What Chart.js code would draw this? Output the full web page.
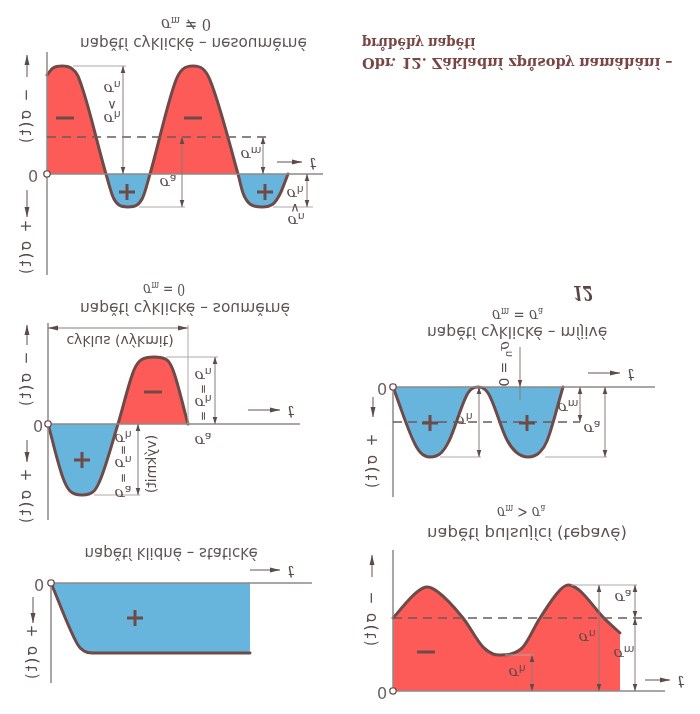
<!DOCTYPE html>
<html><head><meta charset="utf-8">
<script src="https://cdn.jsdelivr.net/npm/chart.js@4.4.1/dist/chart.umd.min.js"></script>
<style>
html,body{margin:0;padding:0;background:#fff;overflow:hidden}
#page{position:relative;width:700px;height:714px;transform:scaleY(-1);transform-origin:50% 50%;background:#fff;overflow:hidden}
#page canvas{position:absolute}
.lbl{position:absolute;white-space:nowrap;color:#5d5353;font-family:"DejaVu Sans",sans-serif;transform-origin:0 50%;height:18px;line-height:18px}
.lbl sub{font-size:0.65em;vertical-align:-0.2em}
.cap{color:#7a4644;font-family:"DejaVu Serif",serif;font-weight:bold}
</style></head><body><div id="page"></div>
<script>
// ===================== DATA (time t, stress σ) =====================
// A: napětí cyklické – nesouměrné (σm ≠ 0)
const tA=[0,6,15,24,31,59,66,72,81,90,96,103,129,136,146,156,163,191,196,203,215,226,233,241];
const sA=[-99,-106,-108,-106,-98,0,23,31,33,31,23,0,-94,-105,-108,-105,-94,0,19,30,33,30,20,0];
const A_low=-108, A_high=33, A_mean=-37;
// B: napětí cyklické – souměrné (σm = 0)
const tB=[0,15,22,34,46,53,70,86,93,106,119,125,140];
const sB=[0,54,67,71,67,54,0,-54,-64,-67,-64,-54,0];
const B_low=-67, B_high=71;
// C: napětí cyklické – míjivé (σm = σa)
const tC=[0,20,27,37,48,56,75,85,95,114,123,135,147,154,170];
const sC=[0,53,65,70,66,54,6,0,6,53,65,70,65,54,0];
const C_high=70, C_mean=35;
// D: napětí klidné – statické
const tD=[0,27,33,41,199];
const sD=[0,62,68,70,70];
// E: napětí pulsující (tepavé) (σm > σa)
const tE=[0,24,34,45,70,90,100,107,118,130,147,167,175,186,210,227];
const sE=[-73,-99,-104,-99,-73,-44,-37,-36,-37,-44,-73,-101,-106,-101,-74,-58];
const E_low=-106, E_high=-36, E_mean=-73;

const titles=[
 {html:'napětí cyklické – nesouměrné',cx:193,cy:43,w:227},
 {html:'<i>σ</i><sub>m</sub> ≠ 0',cx:186,cy:25,w:50,font:'17px "DejaVu Serif"'},
 {html:'napětí cyklické – souměrné',cx:185,cy:308,w:210},
 {html:'<i>σ</i><sub>m</sub> = 0',cx:164,cy:290,w:42,font:'17px "DejaVu Serif"'},
 {html:'napětí cyklické – míjivé',cx:517,cy:332,w:180},
 {html:'<i>σ</i><sub>m</sub> = <i>σ</i><sub>a</sub>',cx:517,cy:316,w:51,font:'17px "DejaVu Serif"'},
 {html:'napětí klidné – statické',cx:171,cy:553,w:173},
 {html:'napětí pulsující (tepavé)',cx:527,cy:533,w:200},
 {html:'<i>σ</i><sub>m</sub> &gt; <i>σ</i><sub>a</sub>',cx:521,cy:513,w:48,font:'17px "DejaVu Serif"'},
 {html:'<i><b>12</b></i>',cx:583,cy:293,w:20,font:'20px "DejaVu Serif"',color:'#5a4444'}
];

// ===================== STYLE =====================
const RED='#fd5b57', BLUE='#67b5dc', EDGE='#6e4b49', INK='#5b4b4b', DIM='#8a7878', AXIS='#8f8888', DASH='#6c5a5a', EXT='#b3a6a6';
const page=document.getElementById('page');

function kit(chart){
 const c=chart.ctx, X=v=>chart.scales.x.getPixelForValue(v), Y=v=>chart.scales.y.getPixelForValue(v);
 const k={
  line(t1,s1,t2,s2,col=DIM,w=1,dash=null){c.save();c.strokeStyle=col;c.lineWidth=w;if(dash)c.setLineDash(dash);c.beginPath();c.moveTo(X(t1),Y(s1));c.lineTo(X(t2),Y(s2));c.stroke();c.restore();},
  head(t,s,t0,s0,col=INK,len=7,hw=2.3){const x=X(t),y=Y(s),dx=x-X(t0),dy=y-Y(s0),L=Math.hypot(dx,dy)||1,ux=dx/L,uy=dy/L;
    c.save();c.fillStyle=col;c.beginPath();c.moveTo(x,y);c.lineTo(x-ux*len-uy*hw,y-uy*len+ux*hw);c.lineTo(x-ux*len+uy*hw,y-uy*len-ux*hw);c.closePath();c.fill();c.restore();},
  dim(t,s1,s2){k.line(t,s1,t,s2,DIM,1);k.head(t,s1,t,s2);k.head(t,s2,t,s1);},
  ext(s,t1,t2){k.line(t1,s,t2,s,EXT,1);},
  arrow(t1,s1,t2,s2){k.line(t1,s1,t2,s2,DIM,1.3);k.head(t2,s2,t1,s1,INK,10,2.5);},
  text(t,s,str,font,col=INK,rot=0){c.save();c.translate(X(t),Y(s));c.rotate(rot);c.font=font;c.fillStyle=col;c.textAlign='center';c.textBaseline='middle';c.fillText(str,0,0);c.restore();},
  sig(t,s,sub,rest='',rot=0,size=15){c.save();c.translate(X(t),Y(s));c.rotate(rot);c.fillStyle=INK;c.textBaseline='middle';c.textAlign='left';
    const f1='italic '+size+'px "DejaVu Serif"', f2=Math.round(size*0.7)+'px "DejaVu Sans"', f3=size+'px "DejaVu Sans"';
    c.font=f1;const w1=c.measureText('σ').width;c.font=f3;const w3=rest?c.measureText(rest).width:0;c.font=f2;const w2=c.measureText(sub).width;
    const x=-(w1+w2+w3)/2;c.font=f1;c.fillText('σ',x,0);c.font=f2;c.fillText(sub,x+w1,4);if(rest){c.font=f3;c.fillText(rest,x+w1+w2,0);}c.restore();},
  eq(t,s){k.text(t,s,'=','12px "DejaVu Sans"',INK,Math.PI/2);},
  plus(t,s,r=8){k.line(t,s,t,s,INK,0);c.save();c.strokeStyle=EDGE;c.lineWidth=3;c.beginPath();c.moveTo(X(t)-r,Y(s));c.lineTo(X(t)+r,Y(s));c.moveTo(X(t),Y(s)-r);c.lineTo(X(t),Y(s)+r);c.stroke();c.restore();},
  minus(t,s,r=9){c.save();c.strokeStyle=EDGE;c.lineWidth=3;c.beginPath();c.moveTo(X(t)-r,Y(s));c.lineTo(X(t)+r,Y(s));c.stroke();c.restore();},
  origin(){c.save();c.fillStyle='#fff';c.strokeStyle=EDGE;c.lineWidth=1.3;c.beginPath();c.arc(X(0),Y(0),3.2,0,Math.PI*2);c.fill();c.stroke();c.restore();},
  zero(t){k.text(t,0,'0','16px "DejaVu Sans"','#6d6262');},
  tlab(t1,t2,s){k.arrow(t1,s,t2,s);k.text(t2+11,s,'t','italic 16px "DejaVu Serif"');},
  axisLabel(t,s,sign){c.save();c.translate(X(t),Y(s));c.rotate(-Math.PI/2);c.fillStyle=INK;c.textBaseline='middle';c.textAlign='center';c.font='15px "DejaVu Sans"';c.letterSpacing='2px';c.fillText(sign+' σ(t)',0,0);c.restore();}
 };
 return k;
}

function mkChart(id, box, x0, y0, t, s, fillCfg, deco){
 const cv=document.createElement('canvas'); const w=box[2]-box[0], h=box[3]-box[1];
 cv.width=w; cv.height=h; cv.style.left=box[0]+'px'; cv.style.bottom=box[1]+'px'; cv.style.width=w+'px'; cv.style.height=h+'px';
 page.appendChild(cv);
 new Chart(cv,{type:'line',
  data:{datasets:[{data:t.map((v,i)=>({x:v,y:s[i]})),borderColor:EDGE,borderWidth:3,pointRadius:0,cubicInterpolationMode:'monotone',fill:fillCfg,borderJoinStyle:'round',borderCapStyle:'round'}]},
  options:{responsive:false,animation:false,devicePixelRatio:1,layout:{padding:0},events:[],
   plugins:{legend:{display:false},tooltip:{enabled:false},title:{display:false}},
   scales:{x:{type:'linear',display:false,min:box[0]-x0,max:box[2]-x0},y:{type:'linear',display:false,min:box[1]-y0,max:box[3]-y0}}},
  plugins:[{id:'deco'+id,afterDatasetsDraw(ch){deco(kit(ch));}}]});
}
const both={target:'origin',above:BLUE,below:RED};

// ---- A ----
mkChart('A',[0,48,345,283],47,174,tA,sA,both,k=>{
 k.line(0,-122,0,101,AXIS,1.5); k.line(0,0,276,0,AXIS,1.5);
 k.line(0,A_mean,221,A_mean,DASH,1.6,[9,6]);
 k.origin(); k.zero(-14); k.tlab(230,255,-12);
 k.dim(216,A_mean,0); k.sig(204,-20,'m');
 k.ext(A_high,92,138); k.dim(135,A_mean,A_high); k.sig(121,8,'a');
 k.ext(A_low,26,79); k.dim(76,A_low,0); k.sig(65,-86,'n'); k.text(65,-70,'∧','13px "DejaVu Sans"'); k.sig(65,-56,'h');
 k.ext(A_high,226,266); k.dim(260,0,A_high); k.sig(248,19,'h'); k.text(248,33,'∨','13px "DejaVu Sans"'); k.sig(249,46,'n');
 k.minus(18,-56); k.minus(146,-56); k.plus(80,18); k.plus(218,18);
 k.axisLabel(-20,-57,'−'); k.arrow(-20,-97,-20,-119);
 k.axisLabel(-20,74,'+'); k.arrow(-20,16,-20,43);
});
// ---- B ----
mkChart('B',[0,318,320,525],48,424,tB,sB,both,k=>{
 k.line(0,-101,0,96,AXIS,1.5); k.line(0,0,252,0,AXIS,1.5);
 k.origin(); k.zero(-10); k.tlab(200,232,-14);
 k.line(140,-99,140,0,EXT,1);
 k.line(0,-96,140,-96,DIM,1); k.head(0,-96,140,-96,INK,10,2.5); k.head(140,-96,0,-96,INK,10,2.5);
 k.text(72,-84,'cyklus (výkmit)','14px "DejaVu Sans"');
 k.ext(B_low,118,170); k.dim(167,B_low,0);
 k.sig(155,-49,'n'); k.eq(155,-35); k.sig(155,-22,'h'); k.eq(155,-8); k.sig(155,16,'a');
 k.ext(B_high,46,92); k.dim(90,0,B_high);
 k.sig(75,14,'h'); k.eq(75,26); k.sig(75,39,'n'); k.eq(75,54); k.sig(75,69,'a');
 k.text(104,40,'(výkmit)','14px "DejaVu Sans"',INK,-Math.PI/2);
 k.minus(105,-32); k.plus(34,36);
 k.axisLabel(-21,-44,'−'); k.arrow(-21,-79,-21,-99);
 k.axisLabel(-21,73,'+'); k.arrow(-21,16,-21,38);
});
// ---- C ----
mkChart('C',[355,340,665,500],393,387,tC,sC,both,k=>{
 k.line(0,0,0,110,AXIS,1.5); k.line(0,0,262,0,AXIS,1.5);
 k.line(0,C_mean,187,C_mean,DASH,1.6,[9,6]);
 k.origin(); k.zero(-11); k.tlab(195,227,-14);
 k.plus(37,36); k.plus(134,36);
 k.sig(112,-23,'n',' = 0',-Math.PI/2,14);
 k.line(127,-40,127,13,DIM,1); k.head(127,0,127,-40);
 k.ext(C_high,47,88); k.dim(86,0,C_high); k.sig(71,33,'h');
 k.dim(187,0,C_mean); k.sig(175,20,'m');
 k.ext(C_high,152,214); k.dim(212,0,C_high); k.sig(199,41,'a');
 k.axisLabel(-20,75,'+'); k.arrow(-20,10,-20,30);
});
// ---- D ----
mkChart('D',[0,560,330,690],51,583,tD,sD,both,k=>{
 k.line(0,0,0,100,AXIS,1.5); k.line(0,0,261,0,AXIS,1.5);
 k.origin(); k.zero(-12); k.tlab(199,229,-13);
 k.plus(84,35);
 k.axisLabel(-18,70,'+'); k.arrow(-18,14,-18,40);
});
// ---- E ----
mkChart('E',[355,545,700,714],393,691,tE,sE,both,k=>{
 k.line(0,-141,0,0,AXIS,1.5); k.line(0,0,272,0,AXIS,1.5);
 k.line(0,E_mean,250,E_mean,DASH,1.6,[9,6]);
 k.origin(); k.zero(-11); k.tlab(252,277,-11);
 k.minus(33,-39);
 k.ext(E_high,112,141); k.dim(139,E_high,0); k.sig(124,-19,'h');
 k.ext(E_low,178,244); k.dim(206,E_low,0); k.sig(194,-54,'n');
 k.dim(242,E_low,E_mean); k.sig(230,-94,'a');
 k.dim(242,E_mean,0); k.sig(231,-38,'m');
 k.axisLabel(-21,-71,'−'); k.arrow(-21,-114,-21,-136);
});

// ---- HTML text ----
function addLabel(o){
 const d=document.createElement('div'); d.className='lbl'; d.innerHTML=o.html;
 d.style.font=o.font||'15px "DejaVu Sans"'; d.style.lineHeight='18px'; if(o.color)d.style.color=o.color;
 page.appendChild(d);
 const w=d.offsetWidth; const sc=o.w/w;
 d.style.left=(o.cx-o.w/2)+'px'; d.style.bottom=(o.cy-9)+'px'; d.style.transform='scaleX('+sc+')';
}
titles.forEach(addLabel);
function addCaption(text,x,cy,target,spread){
 const d=document.createElement('div'); d.className='lbl cap'; d.textContent=text; d.style.fontSize='15px';
 page.appendChild(d);
 const w=d.offsetWidth; const gaps=(text.match(/ /g)||[]).length;
 if(spread && w<target && gaps){d.style.wordSpacing=((target-w)/gaps)+'px';}
 else {d.style.transform='scaleX('+(target/w)+')';}
 d.style.left=x+'px'; d.style.bottom=(cy-9)+'px';
}
addCaption('Obr. 12. Základní způsoby namáhání –',362,63,311,true);
addCaption('průběhy napětí',362,43,113,false);
</script></body></html>
